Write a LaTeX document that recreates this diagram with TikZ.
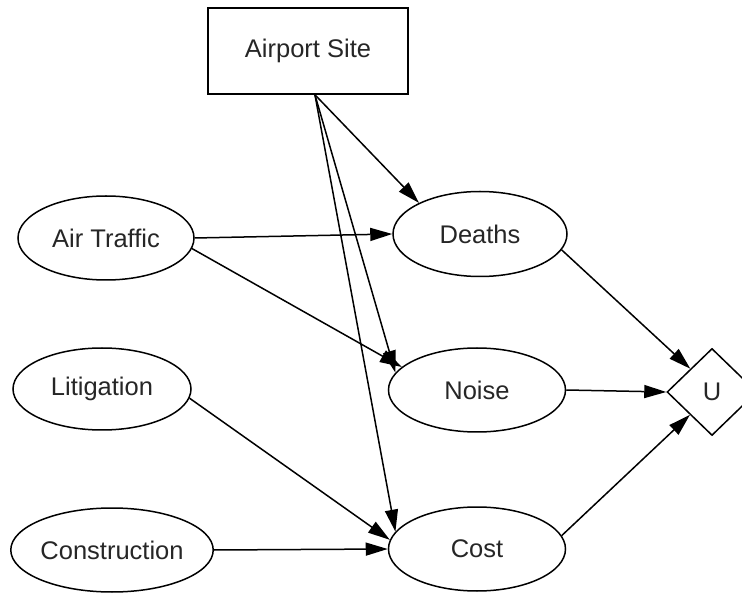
\documentclass[tikz,border=0pt]{standalone}
\usepackage{fontspec}
\setmainfont{Liberation Sans}
\usetikzlibrary{shapes.geometric,arrows.meta}
\begin{document}
\begin{tikzpicture}[x=1pt,y=-1pt,
  every node/.style={font=\fontsize{25.5}{30}\selectfont, text=black!85, line width=1.5pt, inner sep=0pt},
  chance/.style={draw, ellipse, minimum width=176pt, minimum height=84pt},
  decision/.style={draw, rectangle, minimum width=200pt, minimum height=86pt},
  utility/.style={draw, diamond, minimum width=90pt, minimum height=87pt},
  link/.style={line width=1.5pt, -{Triangle[length=22pt,width=13pt]}}]
\useasboundingbox (0,0) rectangle (742,593);
\node[decision] (A) at (308,51) {Airport Site};
\node[chance] (AT) at (106,238) {Air Traffic};
\node[chance, minimum width=178pt, minimum height=82pt] (L) at (102,389) {Litigation};
\node[chance, minimum width=175pt] (CO) at (112,550) {Construction};
\node[chance, minimum width=174pt, minimum height=85pt] (D) at (480,234) {Deaths};
\node[chance, minimum width=177pt] (N) at (477,390) {Noise};
\node[chance, minimum width=177pt] (C) at (477,549) {Cost};
\node[utility] (U) at (712,392) {U};
\draw[link] (A.-81) -- (D.153);
\draw[link] (A.-81) -- (N.168);
\draw[link] (A.-81) -- (C.168);
\draw[link] (AT.-7) -- (N.163);
\draw[link] (AT.east) -- (D.west);
\draw[link] (L.-6) -- (C.174);
\draw[link] (CO.east) -- (C.west);
\draw[link] (D.-11) -- (U.133);
\draw[link] (N.east) -- (U.west);
\draw[link] (C.9) -- (U.-134);
\end{tikzpicture}
\end{document}
